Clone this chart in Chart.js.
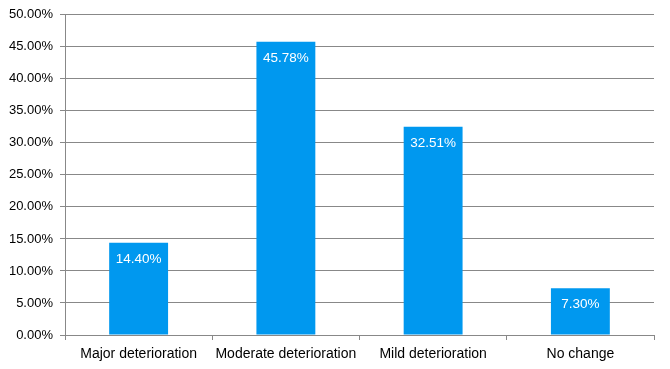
<!DOCTYPE html>
<html lang="en">
<head>
    <meta charset="UTF-8">
    <title>Deterioration share</title>
    <script src="https://cdn.jsdelivr.net/npm/chart.js"></script>
    <style>
        html, body { margin: 0; padding: 0; background: #ffffff; }
        .chart-box { width: 670px; height: 369px; }
    </style>
</head>
<body>
<div class="chart-box">
    <canvas id="share-chart"></canvas>
</div>

<script>
    const categories = ['Major deterioration', 'Moderate deterioration', 'Mild deterioration', 'No change'];
    const shareValues = [14.40, 45.78, 32.51, 7.30];
    const yTicks = [0, 5, 10, 15, 20, 25, 30, 35, 40, 45, 50];

    const gridColor = '#888888';
    const barColor = '#0098EF';
    const fontFamily = '"Liberation Sans", Arial, sans-serif';

    // small inline plugin for the white labels inside the bars
    const barLabels = {
        id: 'barLabels',
        afterDatasetsDraw(chart) {
            const ctx = chart.ctx;
            const meta = chart.getDatasetMeta(0);
            ctx.save();
            ctx.fillStyle = '#ffffff';
            ctx.font = '13.5px ' + fontFamily;
            ctx.textAlign = 'center';
            ctx.textBaseline = 'middle';
            meta.data.forEach((bar, i) => {
                ctx.fillText(shareValues[i].toFixed(2) + '%', bar.x, bar.y + 16);
            });
            ctx.restore();
        }
    };

    Chart.defaults.font.family = fontFamily;
    Chart.defaults.font.size = 13;
    Chart.defaults.color = '#000000';

    new Chart(document.getElementById('share-chart'), {
        type: 'bar',
        data: {
            labels: categories,
            datasets: [{
                data: shareValues,
                backgroundColor: barColor,
                borderWidth: 0,
                categoryPercentage: 1,
                barPercentage: 0.4
            }]
        },
        options: {
            responsive: true,
            maintainAspectRatio: false,
            animation: false,
            layout: { padding: { top: 13, right: 16, bottom: 0, left: 0 } },
            plugins: {
                legend: { display: false },
                tooltip: { enabled: false }
            },
            scales: {
                x: {
                    grid: {
                        drawOnChartArea: false,
                        drawTicks: true,
                        tickLength: 5,
                        color: gridColor,
                        offset: true
                    },
                    border: { color: gridColor },
                    ticks: { padding: 6, maxRotation: 0, autoSkip: false, font: { size: 14 } },
                    afterFit: (scale) => { scale.height = 34; }
                },
                y: {
                    min: 0,
                    max: 50,
                    afterBuildTicks: (scale) => { scale.ticks = yTicks.map(v => ({ value: v })); },
                    grid: { color: gridColor, tickLength: 5 },
                    border: { color: gridColor },
                    ticks: {
                        padding: 7,
                        callback: (v) => Number(v).toFixed(2) + '%'
                    },
                    afterFit: (scale) => { scale.width = 65; }
                }
            }
        },
        plugins: [barLabels]
    });
</script>
</body>
</html>
